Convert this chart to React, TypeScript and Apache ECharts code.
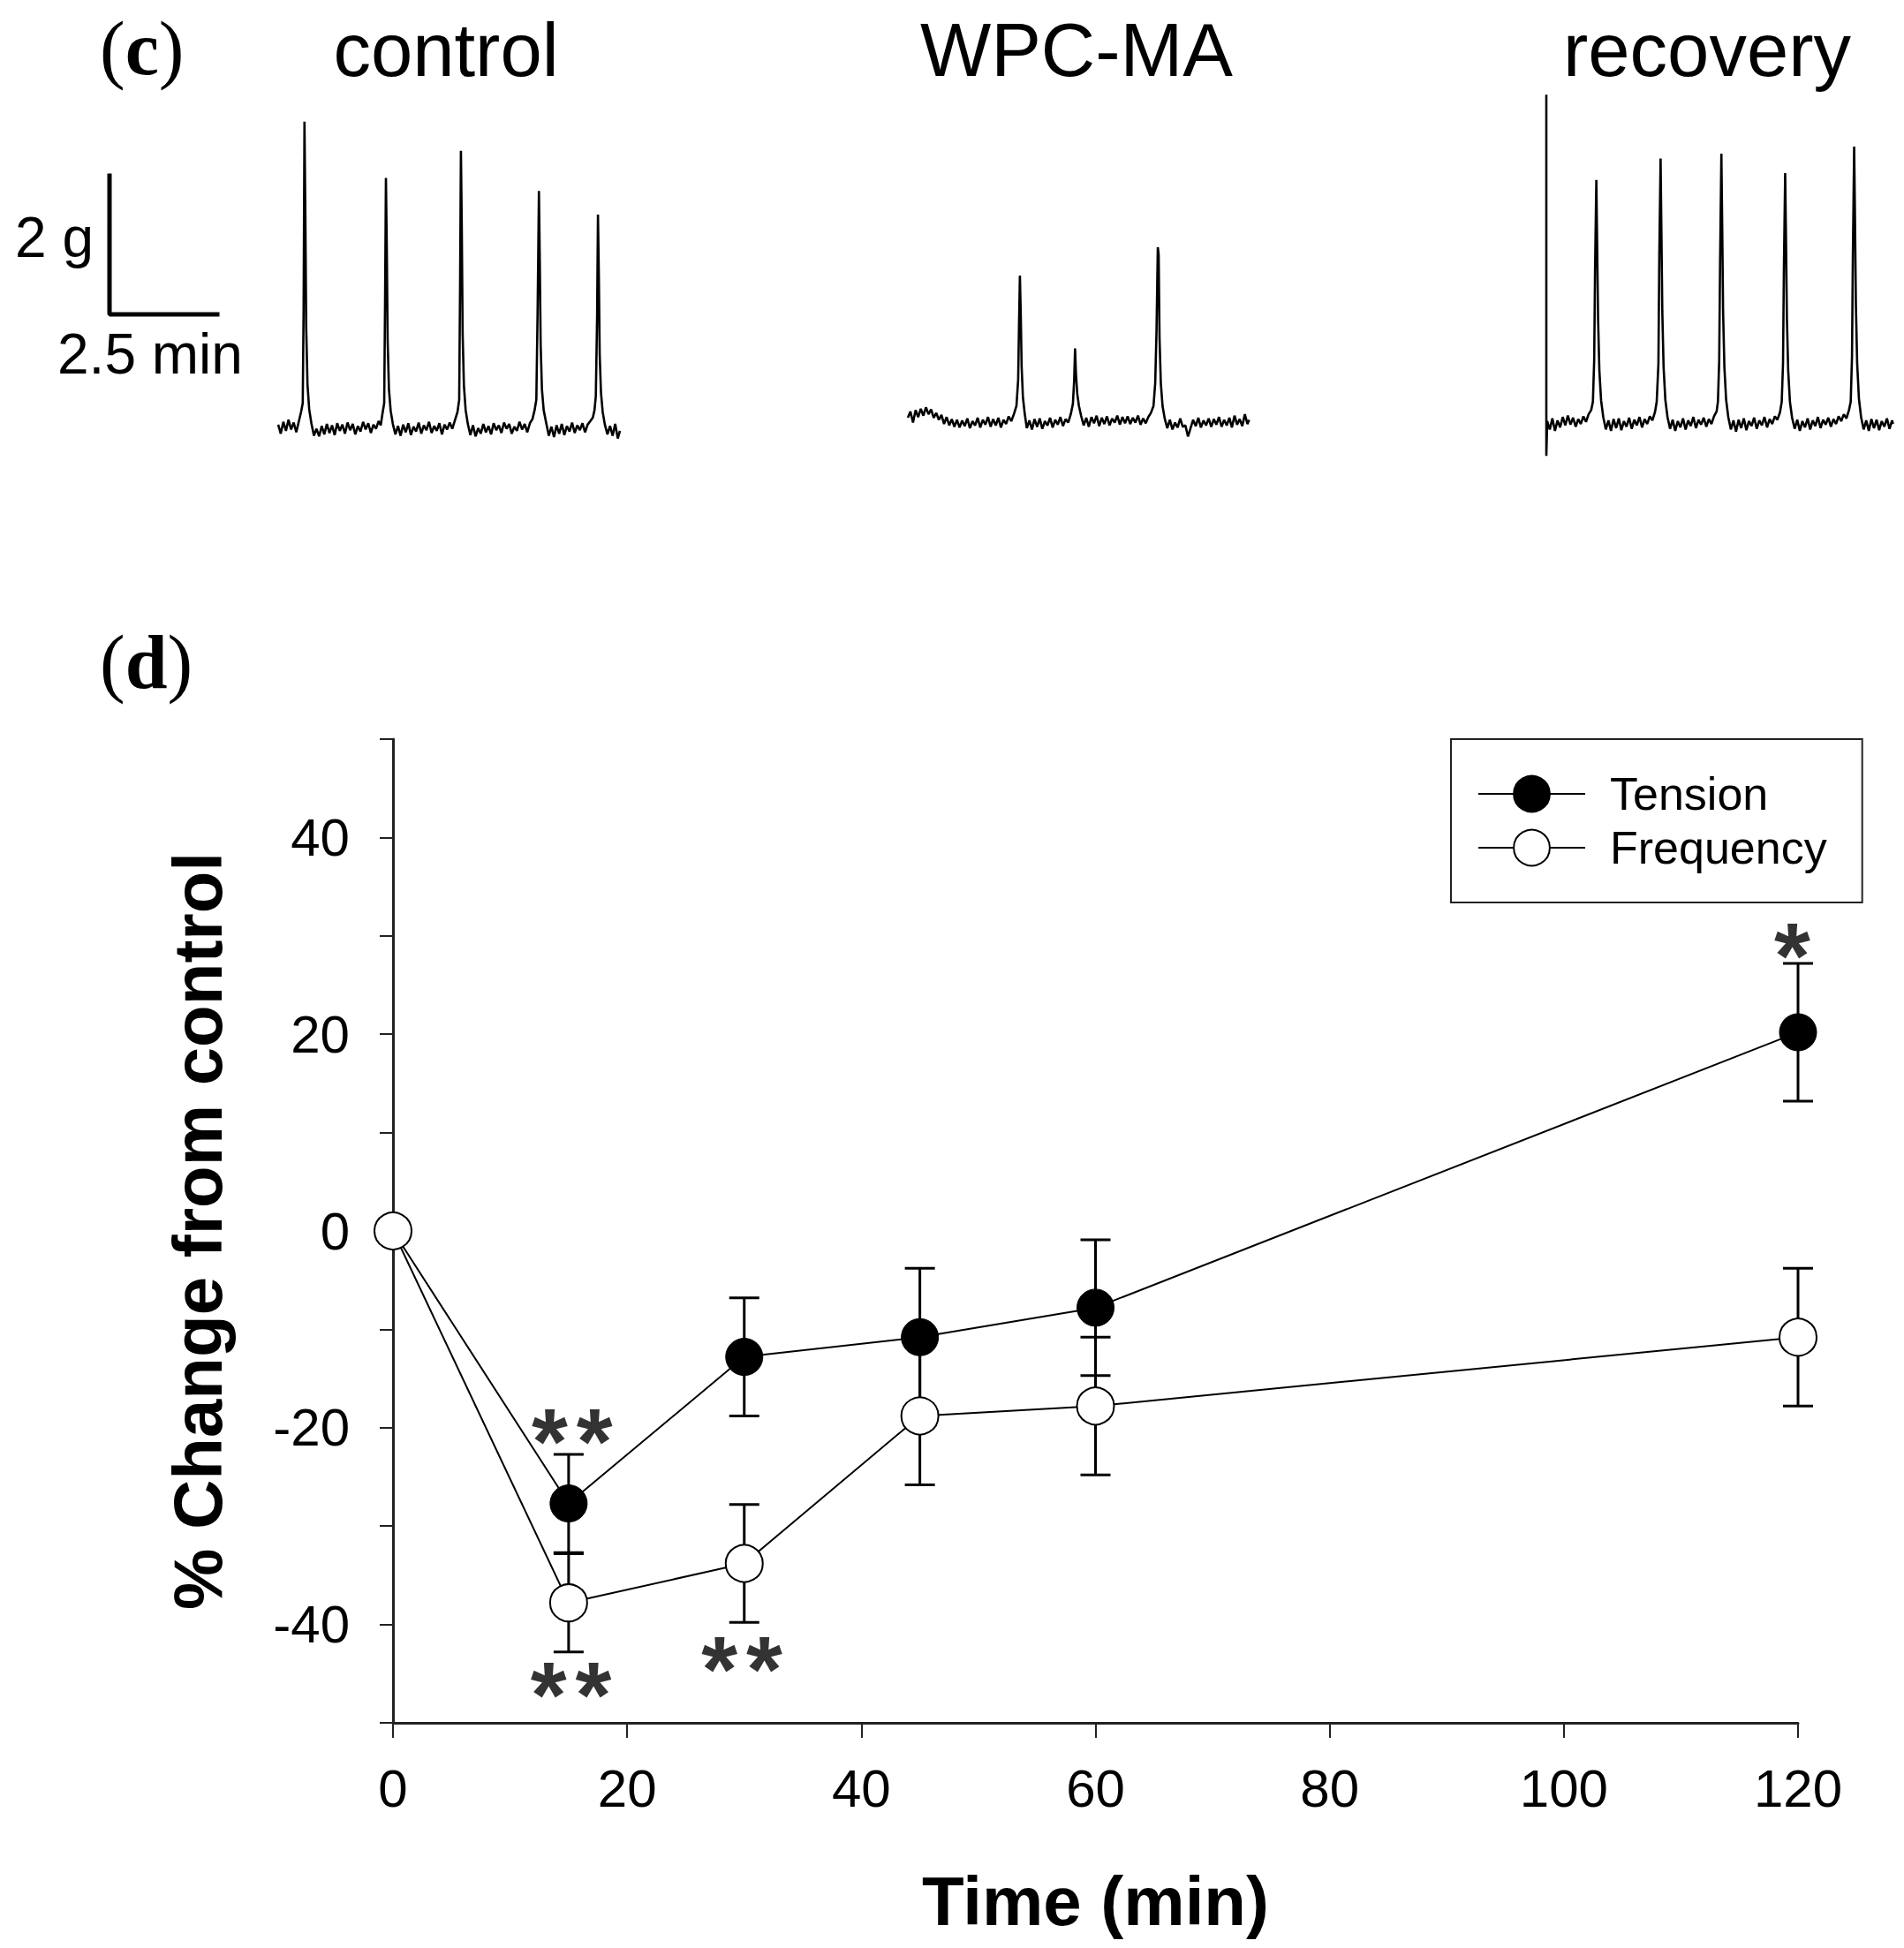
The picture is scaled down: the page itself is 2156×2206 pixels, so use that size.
import React, { useEffect, useRef } from "react";
import * as echarts from "echarts";

const W = 2156;
const H = 2206;
const SANS = "'Liberation Sans', Arial, sans-serif";
const SERIF = "'Liberation Serif', 'Times New Roman', serif";

// ---- panel (d) data ----
const times = [0, 15, 30, 45, 60, 120];
const tensionMean = [0, -27.7, -12.8, -10.8, -7.8, 20.2];
const tensionErr = [0, 5.0, 6.0, 7.0, 6.9, 7.0];
const freqMean = [0, -37.8, -33.8, -18.8, -17.8, -10.8];
const freqErr = [0, 5.0, 6.0, 7.0, 7.0, 7.0];
const seriesNames = ["Tension", "Frequency"];
const xTicks = { min: 0, max: 120, interval: 20 };
const yTicks = { min: -50, max: 50, interval: 10, labelEvery: 20 };

// significance marks (number of asterisks)
const starX = [15.3, 15.2, 29.8, 119.5];
const starY = [-20.0, -45.7, -43.1, 29.4];
const starCount = [2, 2, 2, 1];

// ---- panel (c) traces: [time (min), tension (g)] ----
const controlTrace = [
  [0.00, 0.04], [0.06, -0.09], [0.12, 0.08], [0.18, -0.05], [0.24, 0.11], [0.30, -0.03], [0.36, 0.07], [0.42, -0.07], [0.48, 0.09],
  [0.53, 0.22], [0.57, 0.35], [0.59, 1.70], [0.61, 4.41], [0.63, 3.10], [0.65, 1.45], [0.68, 0.62], [0.72, 0.26], [0.77, 0.06],
  [0.83, -0.12], [0.89, -0.02], [0.95, -0.13], [1.01, 0.02], [1.07, -0.10], [1.13, 0.05], [1.19, -0.08], [1.25, 0.03], [1.31, -0.11],
  [1.37, 0.06], [1.43, -0.05], [1.49, 0.04], [1.55, -0.09], [1.61, 0.07], [1.67, -0.04], [1.73, 0.05], [1.79, -0.10], [1.85, 0.02],
  [1.91, -0.06], [1.97, 0.08], [2.03, -0.03], [2.09, 0.06], [2.15, -0.08], [2.21, 0.04], [2.27, -0.02], [2.33, 0.09], [2.38, 0.03],
  [2.42, 0.20], [2.46, 0.35], [2.48, 1.80], [2.50, 3.60], [2.52, 2.60], [2.54, 1.25], [2.57, 0.55], [2.61, 0.24], [2.66, 0.05],
  [2.72, -0.10], [2.78, 0.02], [2.84, -0.12], [2.90, 0.04], [2.96, -0.07], [3.02, 0.06], [3.08, -0.11], [3.14, 0.01], [3.20, -0.06],
  [3.26, 0.07], [3.32, -0.09], [3.38, 0.03], [3.44, -0.04], [3.50, 0.08], [3.56, -0.08], [3.62, 0.02], [3.68, -0.05], [3.74, 0.06],
  [3.80, -0.10], [3.86, 0.04], [3.92, -0.03], [3.98, 0.07], [4.04, -0.02], [4.10, 0.10],
  [4.16, 0.22], [4.20, 0.40], [4.22, 2.00], [4.24, 3.99], [4.26, 2.90], [4.28, 1.35], [4.31, 0.60], [4.35, 0.25], [4.40, 0.05],
  [4.46, -0.11], [4.52, 0.03], [4.58, -0.13], [4.64, -0.01], [4.70, -0.09], [4.76, 0.05], [4.82, -0.07], [4.88, 0.02], [4.94, -0.10],
  [5.00, 0.06], [5.06, -0.04], [5.12, 0.03], [5.18, -0.08], [5.24, 0.07], [5.30, -0.02], [5.36, 0.05], [5.42, -0.09], [5.48, 0.01],
  [5.54, -0.05], [5.60, 0.08], [5.66, -0.03], [5.72, 0.05], [5.78, -0.07], [5.84, 0.06], [5.90, 0.12],
  [5.95, 0.25], [5.99, 0.40], [6.02, 1.70], [6.05, 3.41], [6.07, 2.40], [6.09, 1.20], [6.12, 0.55], [6.16, 0.25], [6.22, 0.06],
  [6.28, -0.12], [6.34, 0.01], [6.40, -0.14], [6.46, 0.03], [6.52, -0.09], [6.58, 0.05], [6.64, -0.11], [6.70, 0.02], [6.76, -0.06],
  [6.82, 0.07], [6.88, -0.08], [6.94, 0.03], [7.00, -0.04], [7.06, 0.06], [7.12, -0.07], [7.18, 0.04], [7.24, 0.09], [7.30, 0.14],
  [7.34, 0.25], [7.37, 0.45], [7.40, 1.60], [7.42, 3.07], [7.44, 2.20], [7.46, 1.05], [7.49, 0.50], [7.53, 0.22], [7.58, 0.04],
  [7.64, -0.10], [7.70, 0.02], [7.76, -0.12], [7.82, 0.05], [7.88, -0.16], [7.93, -0.05],
];

const wpcTrace = [
  [0.00, 0.05], [0.06, 0.14], [0.12, -0.02], [0.18, 0.16], [0.24, 0.06], [0.30, 0.18], [0.36, 0.08], [0.42, 0.20], [0.48, 0.10],
  [0.54, 0.17], [0.60, 0.05], [0.66, 0.12], [0.72, 0.02], [0.78, 0.09], [0.84, -0.04], [0.90, 0.06], [0.96, -0.06], [1.02, 0.03],
  [1.08, -0.08], [1.14, 0.02], [1.20, -0.09], [1.26, 0.01], [1.32, -0.07], [1.38, 0.04], [1.44, -0.10], [1.50, 0.00], [1.56, -0.06],
  [1.62, 0.05], [1.68, -0.09], [1.74, 0.02], [1.80, -0.05], [1.86, 0.06], [1.92, -0.08], [1.98, 0.03], [2.04, -0.06], [2.10, 0.05],
  [2.16, -0.09], [2.22, 0.02], [2.28, -0.04], [2.34, 0.07], [2.40, 0.00], [2.46, 0.10],
  [2.52, 0.22], [2.56, 0.60], [2.58, 1.40], [2.60, 2.10], [2.62, 1.55], [2.64, 0.80], [2.67, 0.35], [2.71, 0.12],
  [2.76, -0.10], [2.82, 0.01], [2.88, -0.12], [2.94, 0.03], [3.00, -0.08], [3.06, 0.04], [3.12, -0.11], [3.18, 0.00], [3.24, -0.06],
  [3.30, 0.05], [3.36, -0.09], [3.42, 0.02], [3.48, -0.05], [3.54, 0.06], [3.60, -0.07], [3.66, 0.03], [3.72, -0.02], [3.78, 0.10],
  [3.83, 0.25], [3.86, 0.60], [3.88, 1.05], [3.90, 0.70], [3.93, 0.40], [3.97, 0.22], [4.02, 0.08],
  [4.08, -0.06], [4.14, 0.05], [4.20, -0.08], [4.26, 0.06], [4.32, -0.03], [4.38, 0.08], [4.44, -0.07], [4.50, 0.05], [4.56, -0.04],
  [4.62, 0.07], [4.68, -0.06], [4.74, 0.04], [4.80, -0.02], [4.86, 0.08], [4.92, -0.05], [4.98, 0.06], [5.04, -0.03], [5.10, 0.07],
  [5.16, -0.04], [5.22, 0.05], [5.28, -0.02], [5.34, 0.08], [5.40, -0.05], [5.46, 0.04], [5.52, -0.03], [5.58, 0.06], [5.64, 0.12],
  [5.70, 0.22], [5.74, 0.55], [5.77, 1.30], [5.80, 2.51], [5.82, 2.40], [5.84, 1.20], [5.87, 0.55], [5.91, 0.22], [5.96, 0.04],
  [6.02, -0.10], [6.08, 0.02], [6.14, -0.12], [6.20, -0.02], [6.26, -0.09], [6.32, 0.04], [6.38, -0.08], [6.44, -0.06], [6.50, -0.22],
  [6.56, -0.10], [6.62, 0.02], [6.68, -0.07], [6.74, 0.05], [6.80, -0.09], [6.86, 0.01], [6.92, -0.06], [6.98, 0.04], [7.04, -0.08],
  [7.10, 0.03], [7.16, -0.05], [7.22, 0.06], [7.28, -0.08], [7.34, 0.02], [7.40, -0.06], [7.46, 0.05], [7.52, -0.09], [7.58, 0.08],
  [7.64, -0.05], [7.70, 0.03], [7.76, -0.07], [7.82, 0.10], [7.88, -0.04], [7.92, 0.02],
];

const recoveryTrace = [
  [0.00, 4.73], [0.00, -0.48], [0.02, 0.02], [0.08, -0.10], [0.14, 0.06], [0.20, -0.12], [0.26, 0.03], [0.32, -0.07], [0.38, 0.08],
  [0.44, -0.04], [0.50, 0.10], [0.56, -0.03], [0.62, 0.07], [0.68, -0.06], [0.74, 0.05], [0.80, -0.02], [0.86, 0.09], [0.92, 0.01],
  [0.98, 0.12], [1.04, 0.18],
  [1.08, 0.30], [1.11, 0.90], [1.13, 2.20], [1.16, 3.50], [1.18, 2.50], [1.20, 1.50], [1.23, 0.75], [1.27, 0.32], [1.32, 0.08],
  [1.38, -0.10], [1.44, 0.03], [1.50, -0.12], [1.56, 0.05], [1.62, -0.08], [1.68, 0.06], [1.74, -0.11], [1.80, 0.02], [1.86, -0.06],
  [1.92, 0.07], [1.98, -0.09], [2.04, 0.04], [2.10, -0.04], [2.16, 0.08], [2.22, -0.07], [2.28, 0.05], [2.34, -0.02], [2.40, 0.09],
  [2.46, 0.03], [2.52, 0.15],
  [2.56, 0.30], [2.60, 0.85], [2.62, 2.40], [2.65, 3.81], [2.67, 2.70], [2.69, 1.60], [2.72, 0.80], [2.76, 0.33], [2.81, 0.08],
  [2.87, -0.09], [2.93, 0.04], [2.99, -0.12], [3.05, 0.02], [3.11, -0.07], [3.17, 0.06], [3.23, -0.10], [3.29, 0.03], [3.35, -0.05],
  [3.41, 0.08], [3.47, -0.08], [3.53, 0.04], [3.59, -0.03], [3.65, 0.07], [3.71, -0.06], [3.77, 0.05], [3.83, -0.02], [3.89, 0.09],
  [3.95, 0.16],
  [3.98, 0.30], [4.01, 0.90], [4.03, 2.30], [4.06, 3.88], [4.08, 2.80], [4.10, 1.60], [4.13, 0.80], [4.17, 0.33], [4.22, 0.08],
  [4.28, -0.10], [4.34, 0.03], [4.40, -0.13], [4.46, 0.04], [4.52, -0.08], [4.58, 0.06], [4.64, -0.11], [4.70, 0.02], [4.76, -0.05],
  [4.82, 0.07], [4.88, -0.09], [4.94, 0.03], [5.00, -0.04], [5.06, 0.08], [5.12, -0.07], [5.18, 0.05], [5.24, -0.02], [5.30, 0.09],
  [5.36, 0.04], [5.42, 0.15],
  [5.46, 0.30], [5.49, 0.85], [5.51, 2.20], [5.54, 3.60], [5.56, 2.60], [5.58, 1.50], [5.61, 0.75], [5.65, 0.30], [5.70, 0.07],
  [5.76, -0.09], [5.82, 0.04], [5.88, -0.12], [5.94, 0.02], [6.00, -0.07], [6.06, 0.06], [6.12, -0.10], [6.18, 0.03], [6.24, -0.05],
  [6.30, 0.08], [6.36, -0.08], [6.42, 0.04], [6.48, -0.03], [6.54, 0.07], [6.60, -0.06], [6.66, 0.05], [6.72, -0.02], [6.78, 0.09],
  [6.84, 0.02], [6.90, 0.12], [6.96, 0.06], [7.02, 0.18],
  [7.06, 0.30], [7.09, 0.95], [7.11, 2.40], [7.14, 3.98], [7.16, 2.90], [7.18, 1.70], [7.21, 0.85], [7.25, 0.35], [7.30, 0.08],
  [7.36, -0.10], [7.42, 0.03], [7.48, -0.12], [7.54, 0.05], [7.60, -0.08], [7.66, 0.04], [7.72, -0.11], [7.78, 0.02], [7.84, -0.06],
  [7.90, 0.06], [7.96, -0.09], [8.02, 0.03], [8.04, -0.02],
];

// scale bar: 2 g vertical, 2.5 min horizontal
const scaleBarG = 2;
const scaleBarMin = 2.5;
const traceTitles = ["control", "WPC-MA", "recovery"];

function buildOption() {
  const last = (arr: number[][]) => arr[arr.length - 1][0];
  const traces = [controlTrace, wpcTrace, recoveryTrace];
  const traceGrids = [
    { left: 315, top: 91.5, width: 387, height: 471 },
    { left: 1028, top: 84.5, width: 386.5, height: 471 },
    { left: 1751, top: 86, width: 392.5, height: 471 },
  ];
  const grids: any[] = [
    ...traceGrids,
    { left: 124, top: 199, width: 122, height: 157 },
    { left: 445, top: 837, width: 1591, height: 1114 },
  ];
  const hidden = { show: false, splitLine: { show: false } };
  const xAxes: any[] = [
    ...traces.map((t, i) => ({ ...hidden, type: "value", gridIndex: i, min: 0, max: last(t) })),
    { ...hidden, type: "value", gridIndex: 3, min: 0, max: scaleBarMin },
  ];
  const yAxes: any[] = [
    ...traces.map((_, i) => ({ ...hidden, type: "value", gridIndex: i, min: -1, max: 5 })),
    { ...hidden, type: "value", gridIndex: 3, min: 0, max: scaleBarG },
  ];
  const axisColor = "#222";
  xAxes.push({
    type: "value",
    gridIndex: 4,
    min: xTicks.min,
    max: xTicks.max,
    interval: xTicks.interval,
    axisLine: { show: true, onZero: false, lineStyle: { color: axisColor, width: 3 } },
    axisTick: { show: true, length: 17, lineStyle: { color: axisColor, width: 2 } },
    axisLabel: { fontSize: 60, margin: 44, color: "#000", fontFamily: SANS },
    splitLine: { show: false },
    name: "Time (min)",
    nameLocation: "middle",
    nameGap: 163,
    nameTextStyle: { fontSize: 78, fontWeight: "bold", color: "#000", fontFamily: SANS },
  });
  yAxes.push({
    type: "value",
    gridIndex: 4,
    min: yTicks.min,
    max: yTicks.max,
    interval: yTicks.interval,
    axisLine: { show: true, onZero: false, lineStyle: { color: axisColor, width: 3 } },
    axisTick: { show: true, length: 15, lineStyle: { color: axisColor, width: 2 } },
    axisLabel: {
      fontSize: 60,
      margin: 49,
      color: "#000",
      fontFamily: SANS,
      formatter: (v: number) => (v % yTicks.labelEvery === 0 ? String(v) : ""),
    },
    splitLine: { show: false },
    name: "% Change from control",
    nameLocation: "middle",
    nameRotate: 90,
    nameGap: 182,
    nameTextStyle: { fontSize: 78, fontWeight: "bold", color: "#000", fontFamily: SANS },
  });

  const traceSeries = traces.map((t, i) => ({
    type: "line",
    xAxisIndex: i,
    yAxisIndex: i,
    data: t,
    symbol: "none",
    showSymbol: false,
    clip: false,
    silent: true,
    lineStyle: { color: "#000", width: 2.6 },
  }));

  const scaleSeries = {
    type: "line",
    xAxisIndex: 3,
    yAxisIndex: 3,
    data: [[0, scaleBarG], [0, 0], [scaleBarMin, 0]],
    symbol: "none",
    clip: false,
    silent: true,
    lineStyle: { color: "#000", width: 5, cap: "square" },
  };

  const errData = (mean: number[], err: number[]) =>
    times
      .map((t, i) => [t, mean[i] - err[i], mean[i] + err[i], err[i]])
      .filter((d) => d[3] > 0);

  const renderErr = (params: any, api: any) => {
    const x = api.value(0);
    const lo = api.coord([x, api.value(1)]);
    const hi = api.coord([x, api.value(2)]);
    const half = 17;
    const st = { stroke: "#000", lineWidth: 3 };
    return {
      type: "group",
      children: [
        { type: "line", shape: { x1: hi[0], y1: hi[1], x2: lo[0], y2: lo[1] }, style: st },
        { type: "line", shape: { x1: hi[0] - half, y1: hi[1], x2: hi[0] + half, y2: hi[1] }, style: st },
        { type: "line", shape: { x1: lo[0] - half, y1: lo[1], x2: lo[0] + half, y2: lo[1] }, style: st },
      ],
    };
  };

  const mainSeries: any[] = [
    {
      type: "custom",
      xAxisIndex: 4,
      yAxisIndex: 4,
      data: errData(tensionMean, tensionErr),
      encode: { x: 0, y: [1, 2] },
      renderItem: renderErr,
      silent: true,
      z: 1,
    },
    {
      type: "custom",
      xAxisIndex: 4,
      yAxisIndex: 4,
      data: errData(freqMean, freqErr),
      encode: { x: 0, y: [1, 2] },
      renderItem: renderErr,
      silent: true,
      z: 1,
    },
    {
      type: "line",
      name: seriesNames[0],
      xAxisIndex: 4,
      yAxisIndex: 4,
      data: times.map((t, i) => [t, tensionMean[i]]),
      symbol: "circle",
      symbolSize: 42,
      clip: false,
      itemStyle: { color: "#000", borderColor: "#000", borderWidth: 1 },
      lineStyle: { color: "#000", width: 2 },
      z: 3,
    },
    {
      type: "line",
      name: seriesNames[1],
      xAxisIndex: 4,
      yAxisIndex: 4,
      data: times.map((t, i) => [t, freqMean[i]]),
      symbol: "circle",
      symbolSize: 42,
      clip: false,
      itemStyle: { color: "#fff", borderColor: "#000", borderWidth: 2 },
      lineStyle: { color: "#000", width: 2 },
      z: 4,
    },
    {
      type: "scatter",
      xAxisIndex: 4,
      yAxisIndex: 4,
      symbolSize: 1,
      silent: true,
      itemStyle: { color: "rgba(0,0,0,0)" },
      data: starX.map((x, i) => ({
        value: [x, starY[i]],
        label: { formatter: Array(starCount[i]).fill("{s|*}").join("") },
      })),
      label: {
        show: true,
        position: "inside",
        color: "#000",
        offset: [0, 16],
        rich: {
          s: {
            fontSize: 105,
            fontWeight: "bold",
            fontFamily: SANS,
            color: "#000",
            padding: [0, 5, 0, 5],
          },
        },
      },
      z: 5,
    },
  ];

  const titlePos = [
    [505, 56.5],
    [1219, 56.5],
    [1933, 56.5],
  ];

  const txt = (x: number, y: number, text: string, size: number, align: string) => ({
    type: "text",
    x,
    y,
    silent: true,
    style: {
      text,
      fontSize: size,
      fontFamily: SANS,
      fill: "#000",
      align,
      textAlign: align,
      verticalAlign: "middle",
      textVerticalAlign: "middle",
    },
  });

  const panelLabel = (x: number, y: number, letter: string) => ({
    type: "text",
    x,
    y,
    silent: true,
    style: {
      text: `{p|(}{b|${letter}}{p|)}`,
      align: "left",
      textAlign: "left",
      verticalAlign: "middle",
      textVerticalAlign: "middle",
      fill: "#000",
      rich: {
        p: { fontSize: 86, fontFamily: SERIF, fill: "#000", color: "#000" },
        b: { fontSize: 86, fontFamily: SERIF, fontWeight: "bold", fill: "#000", color: "#000" },
      },
    },
  });

  const graphic = [
    panelLabel(113, 55, "c"),
    panelLabel(113, 750, "d"),
    ...traceTitles.map((t, i) => txt(titlePos[i][0], titlePos[i][1], t, 85, "center")),
    txt(106, 269, `${scaleBarG} g`, 64, "right"),
    txt(65, 401, `${scaleBarMin} min`, 64, "left"),
  ];

  return {
    animation: false,
    backgroundColor: "#fff",
    textStyle: { fontFamily: SANS },
    grid: grids,
    xAxis: xAxes,
    yAxis: yAxes,
    legend: {
      data: seriesNames,
      orient: "vertical",
      left: 1643,
      top: 837,
      itemWidth: 121,
      itemHeight: 51,
      itemGap: 9,
      padding: [36, 40, 36, 30],
      borderColor: "#222",
      borderWidth: 2,
      selectedMode: false,
      textStyle: { fontSize: 52, color: "#000", fontFamily: SANS, padding: [0, 0, 0, 23] },
    },
    graphic,
    series: [...traceSeries, scaleSeries, ...mainSeries],
  };
}

export default function App() {
  const ref = useRef<HTMLDivElement>(null);
  useEffect(() => {
    document.body.style.margin = "0";
    const chart = echarts.init(ref.current as HTMLDivElement, null, { renderer: "svg", width: W, height: H });
    chart.setOption(buildOption() as any);
    return () => chart.dispose();
  }, []);
  return <div ref={ref} style={{ width: W, height: H, background: "#fff" }} />;
}
